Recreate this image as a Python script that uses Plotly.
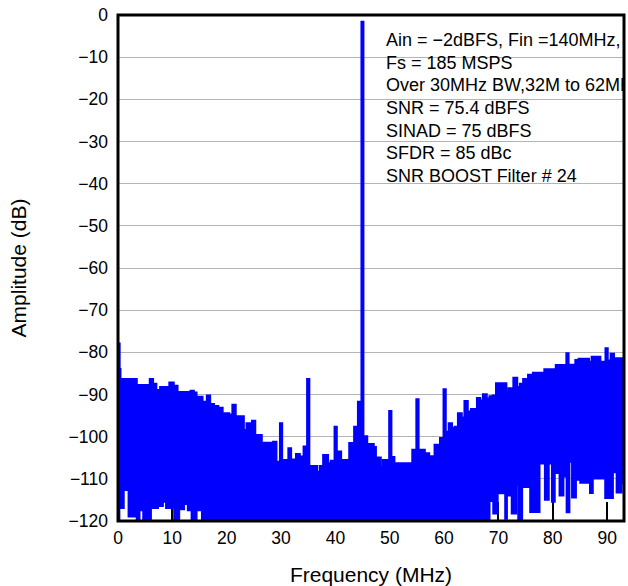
import plotly.graph_objects as go

# ---- data (MHz, dB) ----
freq_upper = [0.0, 0.25, 0.4, 2.0, 2.4, 3.4, 5.9, 6.4, 7.0, 7.8, 9.5, 10.2, 10.9, 13.4, 13.9,
              14.4, 15.5, 16.4, 16.9, 17.6, 18.4, 19.2, 20.4, 21.1, 21.6, 23.1, 23.7, 24.4,
              24.7, 25.2, 26.4, 28.6, 29.1, 29.85, 30.15, 31.4, 31.8, 32.8, 33.4, 34.2, 34.85,
              35.15, 36.6, 37.2, 37.8, 38.6, 39.2, 39.9, 40.2, 41.0, 42.6, 43.5, 44.2, 44.85,
              45.1, 45.8, 47.0, 47.4, 48.3, 48.8, 49.95, 50.25, 50.8, 52.8, 53.2, 54.2, 54.95,
              55.25, 56.4, 57.2, 58.3, 59.3, 59.95, 60.25, 60.9, 61.4, 62.0, 62.6, 63.2, 63.8,
              64.3, 65.0, 66.1, 66.6, 67.2, 67.8, 68.4, 69.0, 69.6, 71.4, 71.9, 72.8, 73.4,
              74.0, 74.6, 75.5, 76.4, 78.5, 80.6, 82.55, 82.85, 84.2, 84.8, 86.6, 87.2, 88.7,
              89.75, 90.05, 90.7, 91.2, 93.1]
level_upper = [-78, -84, -86.4, -88.3, -86.4, -87.8, -86.4, -87.5, -89, -88.3, -87.2, -88,
               -89.5, -89.2, -89.6, -90.6, -91.8, -90.3, -92.3, -92.8, -93.2, -94.5, -94.8,
               -92.5, -95.2, -98.5, -96.9, -97.5, -96.3, -99.7, -101.5, -101.3, -106, -96.9,
               -105.6, -102.8, -105.5, -104.2, -104.8, -102.4, -86.4, -107, -108.4, -107,
               -104.4, -106.4, -105.8, -97.7, -103.6, -105.6, -101.6, -97.7, -91.8, -1.7,
               -100, -101.8, -102.5, -105, -107.2, -105.6, -94, -104.9, -106.4, -107.2,
               -106.4, -103.2, -91.2, -103.2, -104, -104.7, -102, -100.4, -88.8, -98.9, -96.9,
               -98, -97.7, -94.5, -95.5, -91.6, -94.1, -93.5, -90.9, -91.5, -90, -91, -90.5,
               -90.3, -87.4, -89.4, -88.6, -86.1, -88.3, -87.5, -86.4, -85.4, -84.9, -84.1,
               -83.1, -80.3, -83, -81.9, -81.6, -82.3, -81.1, -82.3, -79.1, -82, -80.4, -81.5,
               -81.5]

freq_lower = [0.0, 0.3, 1.1, 1.9, 3.2, 3.4, 4.0, 4.6, 6.1, 7.4, 8.3, 8.8, 10.3, 11.3, 12.2,
              12.8, 13.5, 14.5, 15.4, 16.5, 16.7, 67.3, 67.5, 68.4, 69.0, 69.9, 71.2, 71.6,
              72.4, 73.3, 73.6, 74.4, 75.8, 77.6, 78.5, 79.3, 79.8, 80.4, 81.2, 82.0, 82.5,
              83.1, 83.5, 84.3, 85.0, 86.8, 87.4, 89.6, 91.1, 91.7, 92.7, 93.1]
level_lower = [-120, -117, -112.7, -119, -117.5, -120, -117.5, -120, -117, -116.5, -115.5,
               -117, -120, -117.3, -116, -117.5, -120, -117.5, -120, -110.5, -120, -118, -120,
               -115.3, -118.3, -113.5, -119.5, -114, -118.3, -111.5, -120, -112, -117.9,
               -106.4, -115, -106.4, -115.5, -108.7, -114, -109.5, -118, -106, -114.5, -110.3,
               -111, -113.4, -110, -114.6, -108.5, -113.3, -111, -111]

x_ticks = [0, 10, 20, 30, 40, 50, 60, 70, 80, 90]
y_ticks = [0, -10, -20, -30, -40, -50, -60, -70, -80, -90, -100, -110, -120]

info_lines = ["Ain = \u22122dBFS, Fin =140MHz,", "Fs = 185 MSPS",
              "Over 30MHz BW,32M to 62MHz", "SNR = 75.4 dBFS", "SINAD = 75 dBFS",
              "SFDR = 85 dBc", "SNR BOOST Filter # 24"]

BLUE = "#0000FF"
FONT = "Liberation Sans, Arial, sans-serif"

# text block placement (layout, in axis units)
info_x = 49.3
info_top = -6.35      # centre of first line
info_step = 5.35      # line pitch
info_y = [info_top - i * info_step for i in range(len(info_lines))]

fig = go.Figure()
fig.add_trace(go.Scatter(x=freq_lower, y=level_lower, mode="lines",
                         line=dict(color=BLUE, width=1.5, shape="hv"),
                         hoverinfo="skip", showlegend=False))
fig.add_trace(go.Scatter(x=freq_upper, y=level_upper, mode="lines",
                         line=dict(color=BLUE, width=2.6, shape="hv"),
                         fill="tonexty", fillcolor=BLUE,
                         hoverinfo="skip", showlegend=False))
fig.add_trace(go.Scatter(x=[info_x] * len(info_lines), y=info_y, mode="text",
                         text=info_lines, textposition="middle right",
                         textfont=dict(family=FONT, size=18, color="black"),
                         cliponaxis=True, hoverinfo="skip", showlegend=False))

fig.update_layout(
    width=628, height=586,
    margin=dict(l=118, r=4, t=15, b=65),
    paper_bgcolor="white", plot_bgcolor="white",
    font=dict(family=FONT, size=17.5, color="black"),
    hovermode=False,
    xaxis=dict(range=[0, 93.1], tickmode="array", tickvals=x_ticks,
               showgrid=False, zeroline=False, showline=False,
               ticks="inside", ticklen=19, tickwidth=2, tickcolor="black",
               ticklabelstandoff=4, ticklabeloverflow="allow",
               layer="below traces",
               title=dict(text="Frequency (MHz)", standoff=29),
               automargin=False),
    yaxis=dict(range=[-120, 0], tickmode="array", tickvals=y_ticks,
               showgrid=True, gridcolor="#b4b4b4", gridwidth=1,
               zeroline=False, showline=False, ticks="",
               ticklabelstandoff=9, ticklabeloverflow="allow",
               layer="below traces",
               title=dict(text="Amplitude (dB)", standoff=36),
               automargin=False),
    shapes=[dict(type="rect", xref="paper", yref="paper", x0=0, y0=0, x1=1, y1=1,
                 line=dict(color="black", width=3), layer="above")],
)

# remove the default 8px page margin so the 628x586 figure fills the window exactly
fig.write_html("out.html",
               config={"displayModeBar": False},
               post_script="document.body.style.margin='0';document.body.style.overflow='hidden';")
